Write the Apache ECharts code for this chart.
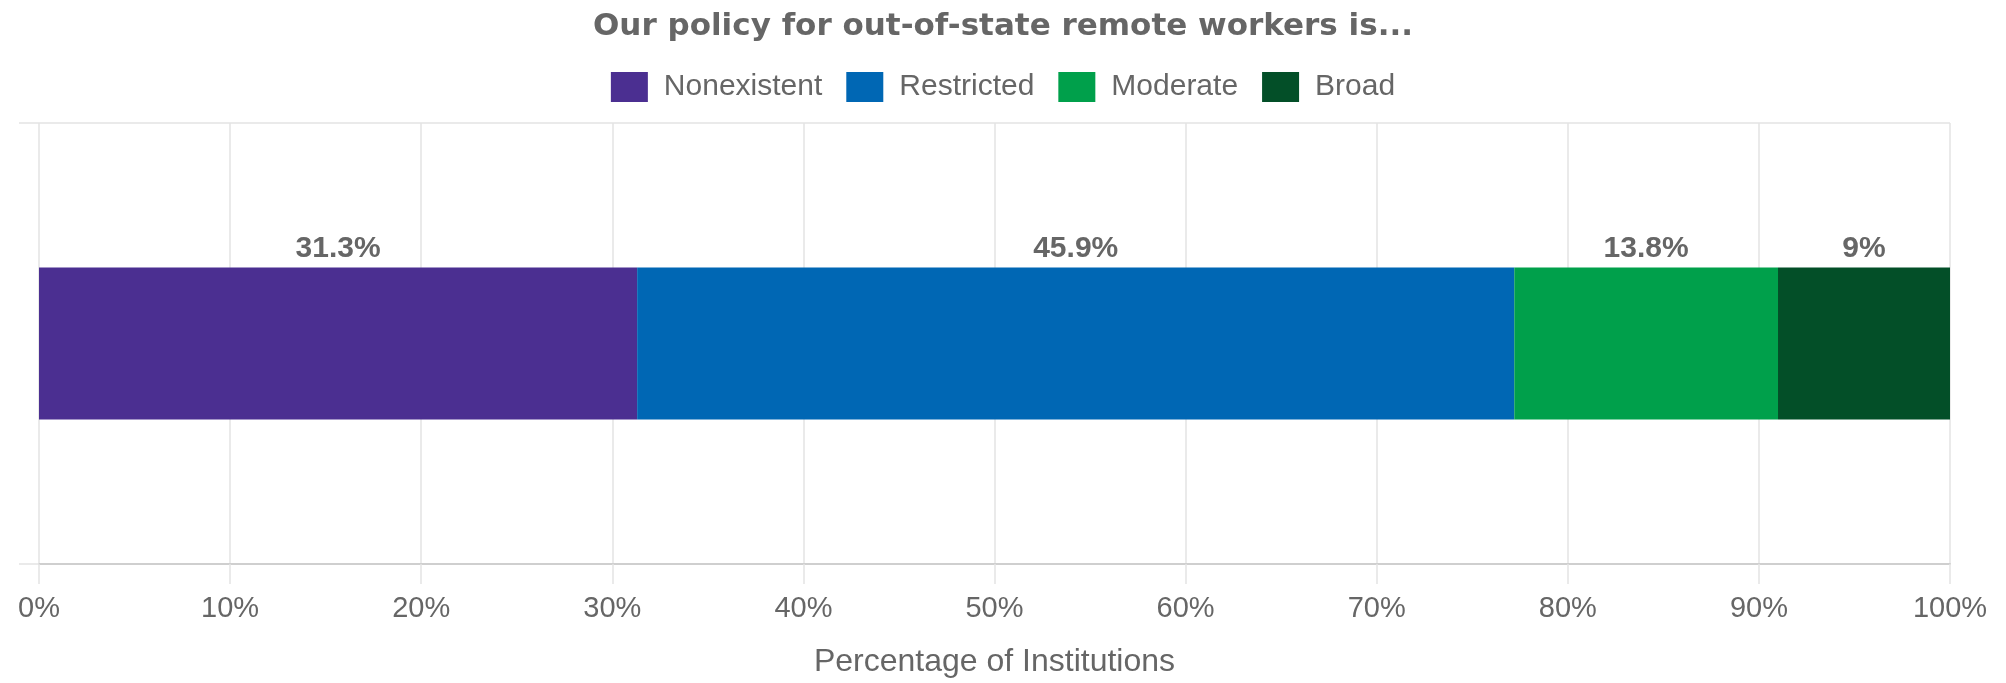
<!DOCTYPE html>
<html>
<head>
<meta charset="utf-8">
<script src="https://cdn.jsdelivr.net/npm/echarts@6/dist/echarts.min.js"></script>
<style>
  html, body { margin: 0; padding: 0; background: #ffffff; }
  #chart { width: 2006px; height: 683px; }
</style>
</head>
<body>
<div id="chart"></div>
<script>
// Survey answers: share of institutions per policy type
const categories = ['Policy'];
const seriesNames = ['Nonexistent', 'Restricted', 'Moderate', 'Broad'];
const nonexistent = [31.3];
const restricted = [45.9];
const moderate = [13.8];
const broad = [9];
const seriesColors = ['#4b2f91', '#0067b4', '#00a04b', '#034f28'];
const tickValues = [0, 10, 20, 30, 40, 50, 60, 70, 80, 90, 100];

const valuesBySeries = [nonexistent, restricted, moderate, broad];
const textGrey = '#666666';
const gridGrey = '#e3e3e3';

const chart = echarts.init(document.getElementById('chart'), null, { renderer: 'canvas' });

const series = seriesNames.map((name, i) => ({
  name: name,
  type: 'bar',
  stack: 'total',
  barWidth: 152,
  data: valuesBySeries[i],
  itemStyle: { color: seriesColors[i] },
  label: {
    show: true,
    position: 'top',
    distance: 4,
    formatter: p => p.value + '%',
    color: textGrey,
    fontFamily: '"Liberation Sans", Arial, sans-serif',
    fontWeight: 'bold',
    fontSize: 30
  }
}));

chart.setOption({
  backgroundColor: '#ffffff',
  animation: false,
  title: {
    text: 'Our policy for out-of-state remote workers is...',
    left: 'center',
    top: 6,
    textStyle: {
      fontFamily: '"DejaVu Sans", sans-serif',
      fontWeight: 'bold',
      fontSize: 31,
      color: textGrey
    }
  },
  legend: {
    data: seriesNames,
    left: 'center',
    top: 67,
    itemWidth: 37,
    itemHeight: 30,
    itemGap: 24,
    icon: 'rect',
    textStyle: {
      fontFamily: '"Liberation Sans", Arial, sans-serif',
      fontSize: 30,
      color: textGrey,
      padding: [0, 0, 8, 11]
    }
  },
  grid: {
    left: 39,
    right: 56,
    top: 123,
    bottom: 115,
    containLabel: false
  },
  xAxis: {
    type: 'value',
    min: tickValues[0],
    max: tickValues[tickValues.length - 1],
    interval: tickValues[1] - tickValues[0],
    name: 'Percentage of Institutions',
    nameLocation: 'middle',
    nameGap: 82,
    nameTextStyle: {
      fontFamily: '"Liberation Sans", Arial, sans-serif',
      fontSize: 32,
      color: textGrey
    },
    axisLine: { show: true, lineStyle: { color: '#cfcfcf', width: 2 } },
    axisTick: { show: true, length: 20, lineStyle: { color: gridGrey, width: 1.5 } },
    splitLine: { show: true, lineStyle: { color: gridGrey, width: 1.5 } },
    axisLabel: {
      margin: 30,
      formatter: v => v + '%',
      fontFamily: '"Liberation Sans", Arial, sans-serif',
      fontSize: 29,
      color: textGrey
    }
  },
  yAxis: {
    type: 'category',
    data: categories,
    boundaryGap: true,
    axisLine: { show: false },
    axisTick: { show: true, length: 20, lineStyle: { color: gridGrey, width: 1.5 } },
    axisLabel: { show: false },
    splitLine: { show: true, lineStyle: { color: gridGrey, width: 1.5 } }
  },
  series: series
});
</script>
</body>
</html>
